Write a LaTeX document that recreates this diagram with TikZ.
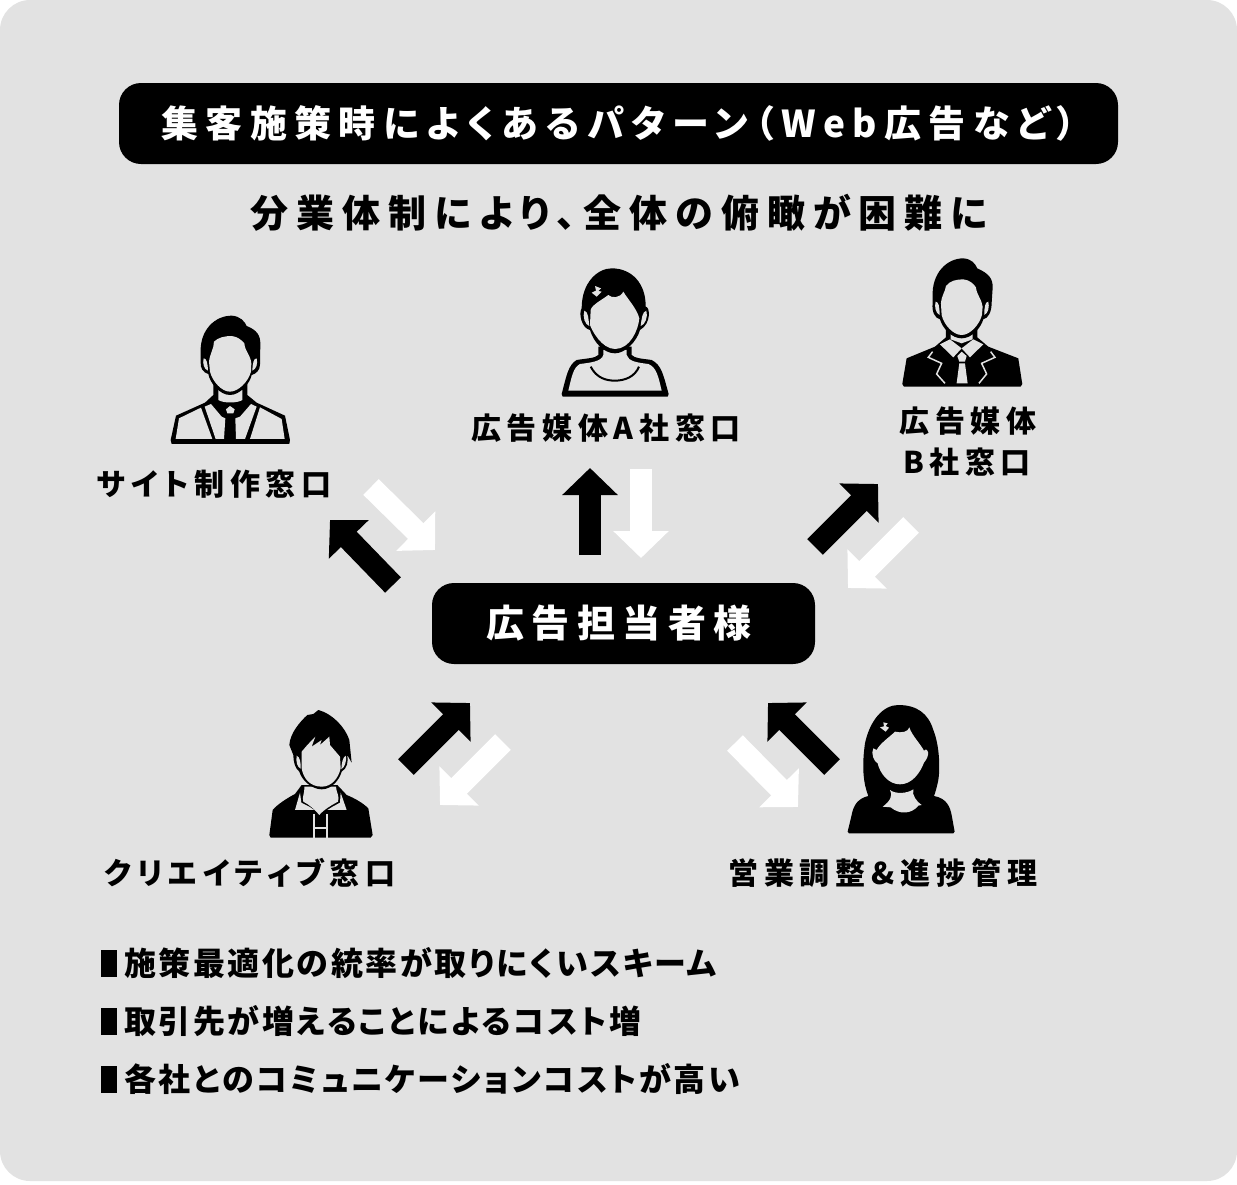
\documentclass[tikz,border=0pt]{standalone}
\usepackage{fontspec}
\usepackage{xcolor}
\usetikzlibrary{arrows.meta}
\newfontfamily\jptitle[LetterSpace=20,RawFeature={+palt}]{Noto Sans CJK JP}
\newfontfamily\jpwide[LetterSpace=21,RawFeature={+palt}]{Noto Sans CJK JP}
\newfontfamily\jplabel[LetterSpace=19,RawFeature={+palt}]{Noto Sans CJK JP}
\newfontfamily\jpnarrow[LetterSpace=8,RawFeature={+palt}]{Noto Sans CJK JP}
\definecolor{panelgray}{HTML}{E2E2E2}
\tikzset{
  barbox/.style={fill=black,text=white,rounded corners=22pt,inner sep=0pt},
  titlefont/.style={font=\jptitle\bfseries\fontsize{37}{40}\selectfont},
  headline/.style={font=\jpwide\bfseries\fontsize{38}{40}\selectfont,inner sep=0pt},
  rolelabel/.style={font=\jplabel\bfseries\fontsize{30}{32}\selectfont,inner sep=0pt},
  noteline/.style={font=\jpnarrow\bfseries\fontsize{32}{36}\selectfont,inner sep=0pt,anchor=west},
  notemark/.style={fill=black,minimum width=16pt,minimum height=27pt,inner sep=0pt},
  blockarrow/.style={line width=22pt,#1,-{Triangle[length=27pt,width=54pt]}},
}
\begin{document}
\begin{tikzpicture}[x=1pt,y=-1pt]
\useasboundingbox (0,0) rectangle (1237,1184);
\fill[panelgray,rounded corners=30pt] (0,0) rectangle (1237,1181);

% title and sub title
\node[barbox,titlefont,minimum width=999pt,minimum height=81pt] (title) at (618.5,123.5) {集客施策時によくあるパターン（Web広告など）};
\node[headline] (subtitle) at (619,213) {分業体制により、全体の俯瞰が困難に};
\node[barbox,titlefont,minimum width=383pt,minimum height=81pt] (client) at (623.5,623.5) {\fontsize{38}{40}\selectfont 広告担当者様\hspace*{9pt}};

% labels
\node[rolelabel] (site) at (214,484) {サイト制作窓口};
\node[rolelabel] (mediaA) at (606,428) {広告媒体A社窓口};
\node[rolelabel] (mediaBa) at (968,421) {広告媒体};
\node[rolelabel] (mediaBb) at (967,462) {B社窓口};
\node[rolelabel] (creative) at (250,873) {クリエイティブ窓口};
\node[rolelabel] (sales) at (883,873) {営業調整\&進捗管理};

% arrows
\coordinate (siteTo) at (330,520);
\coordinate (siteFrom) at (393,585);
\coordinate (siteBack) at (435,550);
\coordinate (siteBackFrom) at (371,487);
\coordinate (mediaATo) at (590,468);
\coordinate (mediaAFrom) at (590,555);
\coordinate (mediaABack) at (641,558);
\coordinate (mediaABackFrom) at (641,469);
\coordinate (mediaBTo) at (878,484);
\coordinate (mediaBFrom) at (815,547);
\coordinate (mediaBBack) at (848,588);
\coordinate (mediaBBackFrom) at (911,525);
\coordinate (creativeTo) at (470,703);
\coordinate (creativeFrom) at (406,767);
\coordinate (creativeBack) at (440,805);
\coordinate (creativeBackFrom) at (503,742);
\coordinate (salesTo) at (768,703);
\coordinate (salesFrom) at (832,767);
\coordinate (salesBack) at (798,807);
\coordinate (salesBackFrom) at (735,743);
\draw[blockarrow=black] (siteFrom) -- (siteTo);
\draw[blockarrow=white] (siteBackFrom) -- (siteBack);
\draw[blockarrow=black] (mediaAFrom) -- (mediaATo);
\draw[blockarrow=white] (mediaABackFrom) -- (mediaABack);
\draw[blockarrow=black] (mediaBFrom) -- (mediaBTo);
\draw[blockarrow=white] (mediaBBackFrom) -- (mediaBBack);
\draw[blockarrow=black] (creativeFrom) -- (creativeTo);
\draw[blockarrow=white] (creativeBackFrom) -- (creativeBack);
\draw[blockarrow=black] (salesFrom) -- (salesTo);
\draw[blockarrow=white] (salesBackFrom) -- (salesBack);

% notes
\node[notemark] (markA) at (109,963.5) {};
\node[noteline] (noteA) at (124,963) {施策最適化の統率が取りにくいスキーム};
\node[notemark] (markB) at (109,1021.5) {};
\node[noteline] (noteB) at (124,1021) {取引先が増えることによるコスト増};
\node[notemark] (markC) at (109,1079.5) {};
\node[noteline] (noteC) at (124,1079) {各社とのコミュニケーションコストが高い};

% site person
\begin{scope}[shift={(150,250)},scale=0.3333]
\fill (190,400) -- (190,435) -- (165,458) -- (78,497) -- (62,570) -- (65,582) -- (418,582) -- (420,570) -- (405,497) -- (320,458) -- (292,435) -- (292,400) -- cycle;
\fill[panelgray] (77,567) -- (87,505) -- (153,473) -- (187,567) -- cycle;
\fill[panelgray] (300,567) -- (330,472) -- (395,507) -- (404,567) -- cycle;
\fill[panelgray] (164,470) -- (197,567) -- (222,567) -- (226,505) -- (215,500) -- (183,462) -- cycle;
\fill[panelgray] (258,567) -- (285,567) -- (320,470) -- (303,462) -- (270,500) -- (256,505) -- cycle;
\fill[panelgray] (205,420) -- (205,450) .. controls (220,460) and (262,460) .. (277,450) -- (277,420) -- cycle;
\fill[panelgray] (228,478) -- (240,468) -- (254,478) -- (250,490) -- (232,490) -- cycle;
\fill (152,305) .. controls (150,240) and (195,197) .. (245,197) .. controls (270,198) and (285,215) .. (290,228) .. controls (320,240) and (332,255) .. (331,285) -- (330,345) .. controls (330,360) and (318,372) .. (305,375) .. controls (300,400) and (270,435) .. (240,435) .. controls (210,435) and (180,400) .. (175,372) .. controls (160,368) and (150,355) .. (152,335) -- cycle;
\fill[panelgray] (177,335) .. controls (180,310) and (192,295) .. (192,275) .. controls (205,262) and (225,258) .. (245,258) .. controls (262,260) and (275,270) .. (283,280) .. controls (285,305) and (302,315) .. (304,340) -- (303,365) .. controls (295,395) and (265,425) .. (240,425) .. controls (215,425) and (188,395) .. (180,365) -- cycle;
\fill[panelgray] (161,325) .. controls (170,325) and (173,340) .. (174,362) .. controls (162,358) and (157,340) .. (161,325) -- cycle;
\fill[panelgray] (320,325) .. controls (311,325) and (308,340) .. (307,362) .. controls (319,358) and (324,340) .. (320,325) -- cycle;
\end{scope}

% media A person
\begin{scope}[shift={(540,250)},scale=0.3333]
\fill (175,290) -- (175,315) .. controls (165,325) and (140,325) .. (110,330) .. controls (85,345) and (80,375) .. (65,432) -- (68,440) -- (383,440) -- (386,432) .. controls (370,375) and (365,345) .. (335,330) .. controls (300,325) and (285,325) .. (275,315) -- (275,290) -- cycle;
\fill[panelgray] (190,300) -- (190,315) .. controls (185,335) and (150,338) .. (120,342) .. controls (100,352) and (95,380) .. (85,422) -- (365,422) .. controls (355,380) and (350,352) .. (325,342) .. controls (295,338) and (265,335) .. (260,315) -- (260,300) -- cycle;
\draw[line width=2pt] (152,350) .. controls (170,385) and (200,392) .. (225,392) .. controls (255,392) and (285,380) .. (297,350);
\fill (125,175) .. controls (125,95) and (175,55) .. (215,55) .. controls (275,55) and (318,100) .. (317,170) .. controls (330,170) and (335,220) .. (300,240) .. controls (290,275) and (255,310) .. (225,310) .. controls (190,310) and (160,275) .. (150,240) .. controls (125,235) and (115,190) .. (125,175) -- cycle;
\fill[panelgray] (152,180) .. controls (155,165) and (185,150) .. (205,135) .. controls (215,145) and (240,145) .. (250,125) .. controls (265,150) and (290,175) .. (298,205) .. controls (295,240) and (270,297) .. (225,297) .. controls (185,297) and (155,240) .. (150,225) -- cycle;
\fill[panelgray] (133,182) .. controls (145,185) and (145,205) .. (148,228) .. controls (135,225) and (127,200) .. (133,182) -- cycle;
\fill[panelgray] (319,182) .. controls (307,185) and (305,205) .. (302,228) .. controls (315,225) and (325,200) .. (319,182) -- cycle;
\fill[panelgray] (165,108) -- (183,115) -- (175,123) -- (185,125) -- (170,140) -- (155,128) -- (168,122) -- cycle;
\end{scope}

% media B person
\begin{scope}[shift={(540,250)},scale=0.3333]
\fill (1218,225) -- (1218,262) -- (1185,290) -- (1100,325) -- (1087,402) -- (1092,410) -- (1442,410) -- (1447,402) -- (1435,325) -- (1345,290) -- (1312,262) -- (1312,225) -- cycle;
\fill[panelgray] (1232,250) -- (1232,268) -- (1265,280) -- (1298,268) -- (1298,250) -- cycle;
\fill[panelgray] (1200,283) -- (1230,268) -- (1265,295) -- (1240,322) -- cycle;
\fill[panelgray] (1330,283) -- (1300,268) -- (1265,295) -- (1290,322) -- cycle;
\fill[panelgray] (1252,318) -- (1265,305) -- (1280,318) -- (1275,335) -- (1258,335) -- cycle;
\fill[panelgray] (1258,340) -- (1275,340) -- (1283,400) -- (1250,400) -- cycle;
\draw[panelgray,line width=1.5pt] (1178,305) -- (1165,322) -- (1205,340) -- (1190,372) -- (1215,400);
\draw[panelgray,line width=1.5pt] (1352,305) -- (1365,322) -- (1325,340) -- (1340,372) -- (1317,400);
\fill (1178,140) .. controls (1175,70) and (1220,25) .. (1270,25) .. controls (1295,27) and (1305,40) .. (1312,55) .. controls (1345,70) and (1360,85) .. (1358,115) -- (1355,160) .. controls (1355,185) and (1345,205) .. (1330,208) .. controls (1322,235) and (1295,265) .. (1265,265) .. controls (1235,265) and (1208,235) .. (1200,208) .. controls (1185,205) and (1175,185) .. (1178,160) -- cycle;
\fill[panelgray] (1203,160) .. controls (1205,135) and (1216,125) .. (1218,108) .. controls (1230,92) and (1250,88) .. (1270,88) .. controls (1288,90) and (1300,100) .. (1308,112) .. controls (1310,135) and (1326,148) .. (1328,170) -- (1326,195) .. controls (1318,225) and (1290,255) .. (1265,255) .. controls (1240,255) and (1212,225) .. (1205,195) -- cycle;
\fill[panelgray] (1187,155) .. controls (1196,155) and (1199,170) .. (1199,195) .. controls (1187,190) and (1183,170) .. (1187,155) -- cycle;
\fill[panelgray] (1345,155) .. controls (1336,155) and (1333,170) .. (1333,195) .. controls (1345,190) and (1349,170) .. (1345,155) -- cycle;
\end{scope}

% creative person
\begin{scope}[shift={(250,690)},scale=0.3333]
\fill (155,285) -- (135,312) .. controls (110,325) and (80,345) .. (68,360) -- (58,435) -- (62,443) -- (362,443) -- (368,435) -- (355,355) .. controls (340,340) and (315,325) .. (290,315) -- (262,285) -- cycle;
\fill[panelgray] (163,290) .. controls (165,310) and (155,320) .. (160,335) .. controls (180,345) and (195,360) .. (208,375) .. controls (220,360) and (245,345) .. (264,335) .. controls (270,320) and (258,305) .. (258,290) -- cycle;
\fill[panelgray] (150,308) -- (135,360) -- (193,360) -- (178,350) -- (154,338) -- cycle;
\fill[panelgray] (272,308) -- (290,360) -- (232,360) -- (248,350) -- (270,338) -- cycle;
\draw[panelgray,line width=2pt] (192,372) -- (192,443);
\draw[panelgray,line width=2pt] (231,372) -- (231,443);
\draw[panelgray,line width=2pt] (192,413) -- (231,413);
\fill (118,165) .. controls (120,130) and (150,95) .. (172,75) -- (190,72) -- (205,60) .. controls (245,70) and (285,110) .. (298,150) -- (305,218) -- (292,195) .. controls (295,215) and (292,235) .. (275,245) .. controls (268,270) and (245,298) .. (215,298) .. controls (185,298) and (155,270) .. (148,245) .. controls (135,235) and (130,215) .. (130,195) -- cycle;
\fill[panelgray] (155,185) -- (172,165) -- (196,140) -- (185,170) -- (215,150) -- (210,165) -- (238,140) -- (240,165) -- (270,200) -- (272,235) .. controls (265,265) and (245,290) .. (215,290) .. controls (180,290) and (160,265) .. (155,235) -- cycle;
\fill[panelgray] (140,197) .. controls (150,200) and (153,220) .. (152,236) .. controls (142,232) and (137,215) .. (140,197) -- cycle;
\fill[panelgray] (288,197) .. controls (278,200) and (275,220) .. (274,238) .. controls (284,232) and (290,215) .. (288,197) -- cycle;
\end{scope}

% sales person
\begin{scope}[shift={(720,690)},scale=0.3333]
\fill (535,45) .. controls (590,45) and (625,70) .. (640,120) .. controls (660,170) and (660,240) .. (655,270) .. controls (650,295) and (645,310) .. (642,318) .. controls (680,325) and (690,350) .. (695,375) -- (704,425) -- (700,430) -- (387,430) -- (383,425) -- (395,375) .. controls (400,345) and (415,325) .. (445,318) .. controls (430,280) and (425,230) .. (435,160) .. controls (450,90) and (490,45) .. (535,45) -- cycle;
\fill[panelgray] (470,180) .. controls (480,160) and (510,140) .. (525,125) .. controls (545,130) and (565,125) .. (568,112) .. controls (575,135) and (600,160) .. (612,182) .. controls (625,170) and (632,195) .. (612,218) .. controls (600,250) and (575,283) .. (540,283) .. controls (505,283) and (480,250) .. (473,220) .. controls (462,215) and (452,190) .. (460,175) -- cycle;
\fill[panelgray] (510,300) .. controls (520,315) and (510,335) .. (488,350) -- (512,352) .. controls (540,375) and (575,372) .. (595,347) -- (605,345) .. controls (590,335) and (575,315) .. (580,298) .. controls (560,312) and (525,312) .. (510,300) -- cycle;
\fill[panelgray] (490,97) -- (503,100) -- (497,108) -- (507,113) -- (497,125) -- (480,112) -- (492,109) -- cycle;
\end{scope}
\end{tikzpicture}
\end{document}
